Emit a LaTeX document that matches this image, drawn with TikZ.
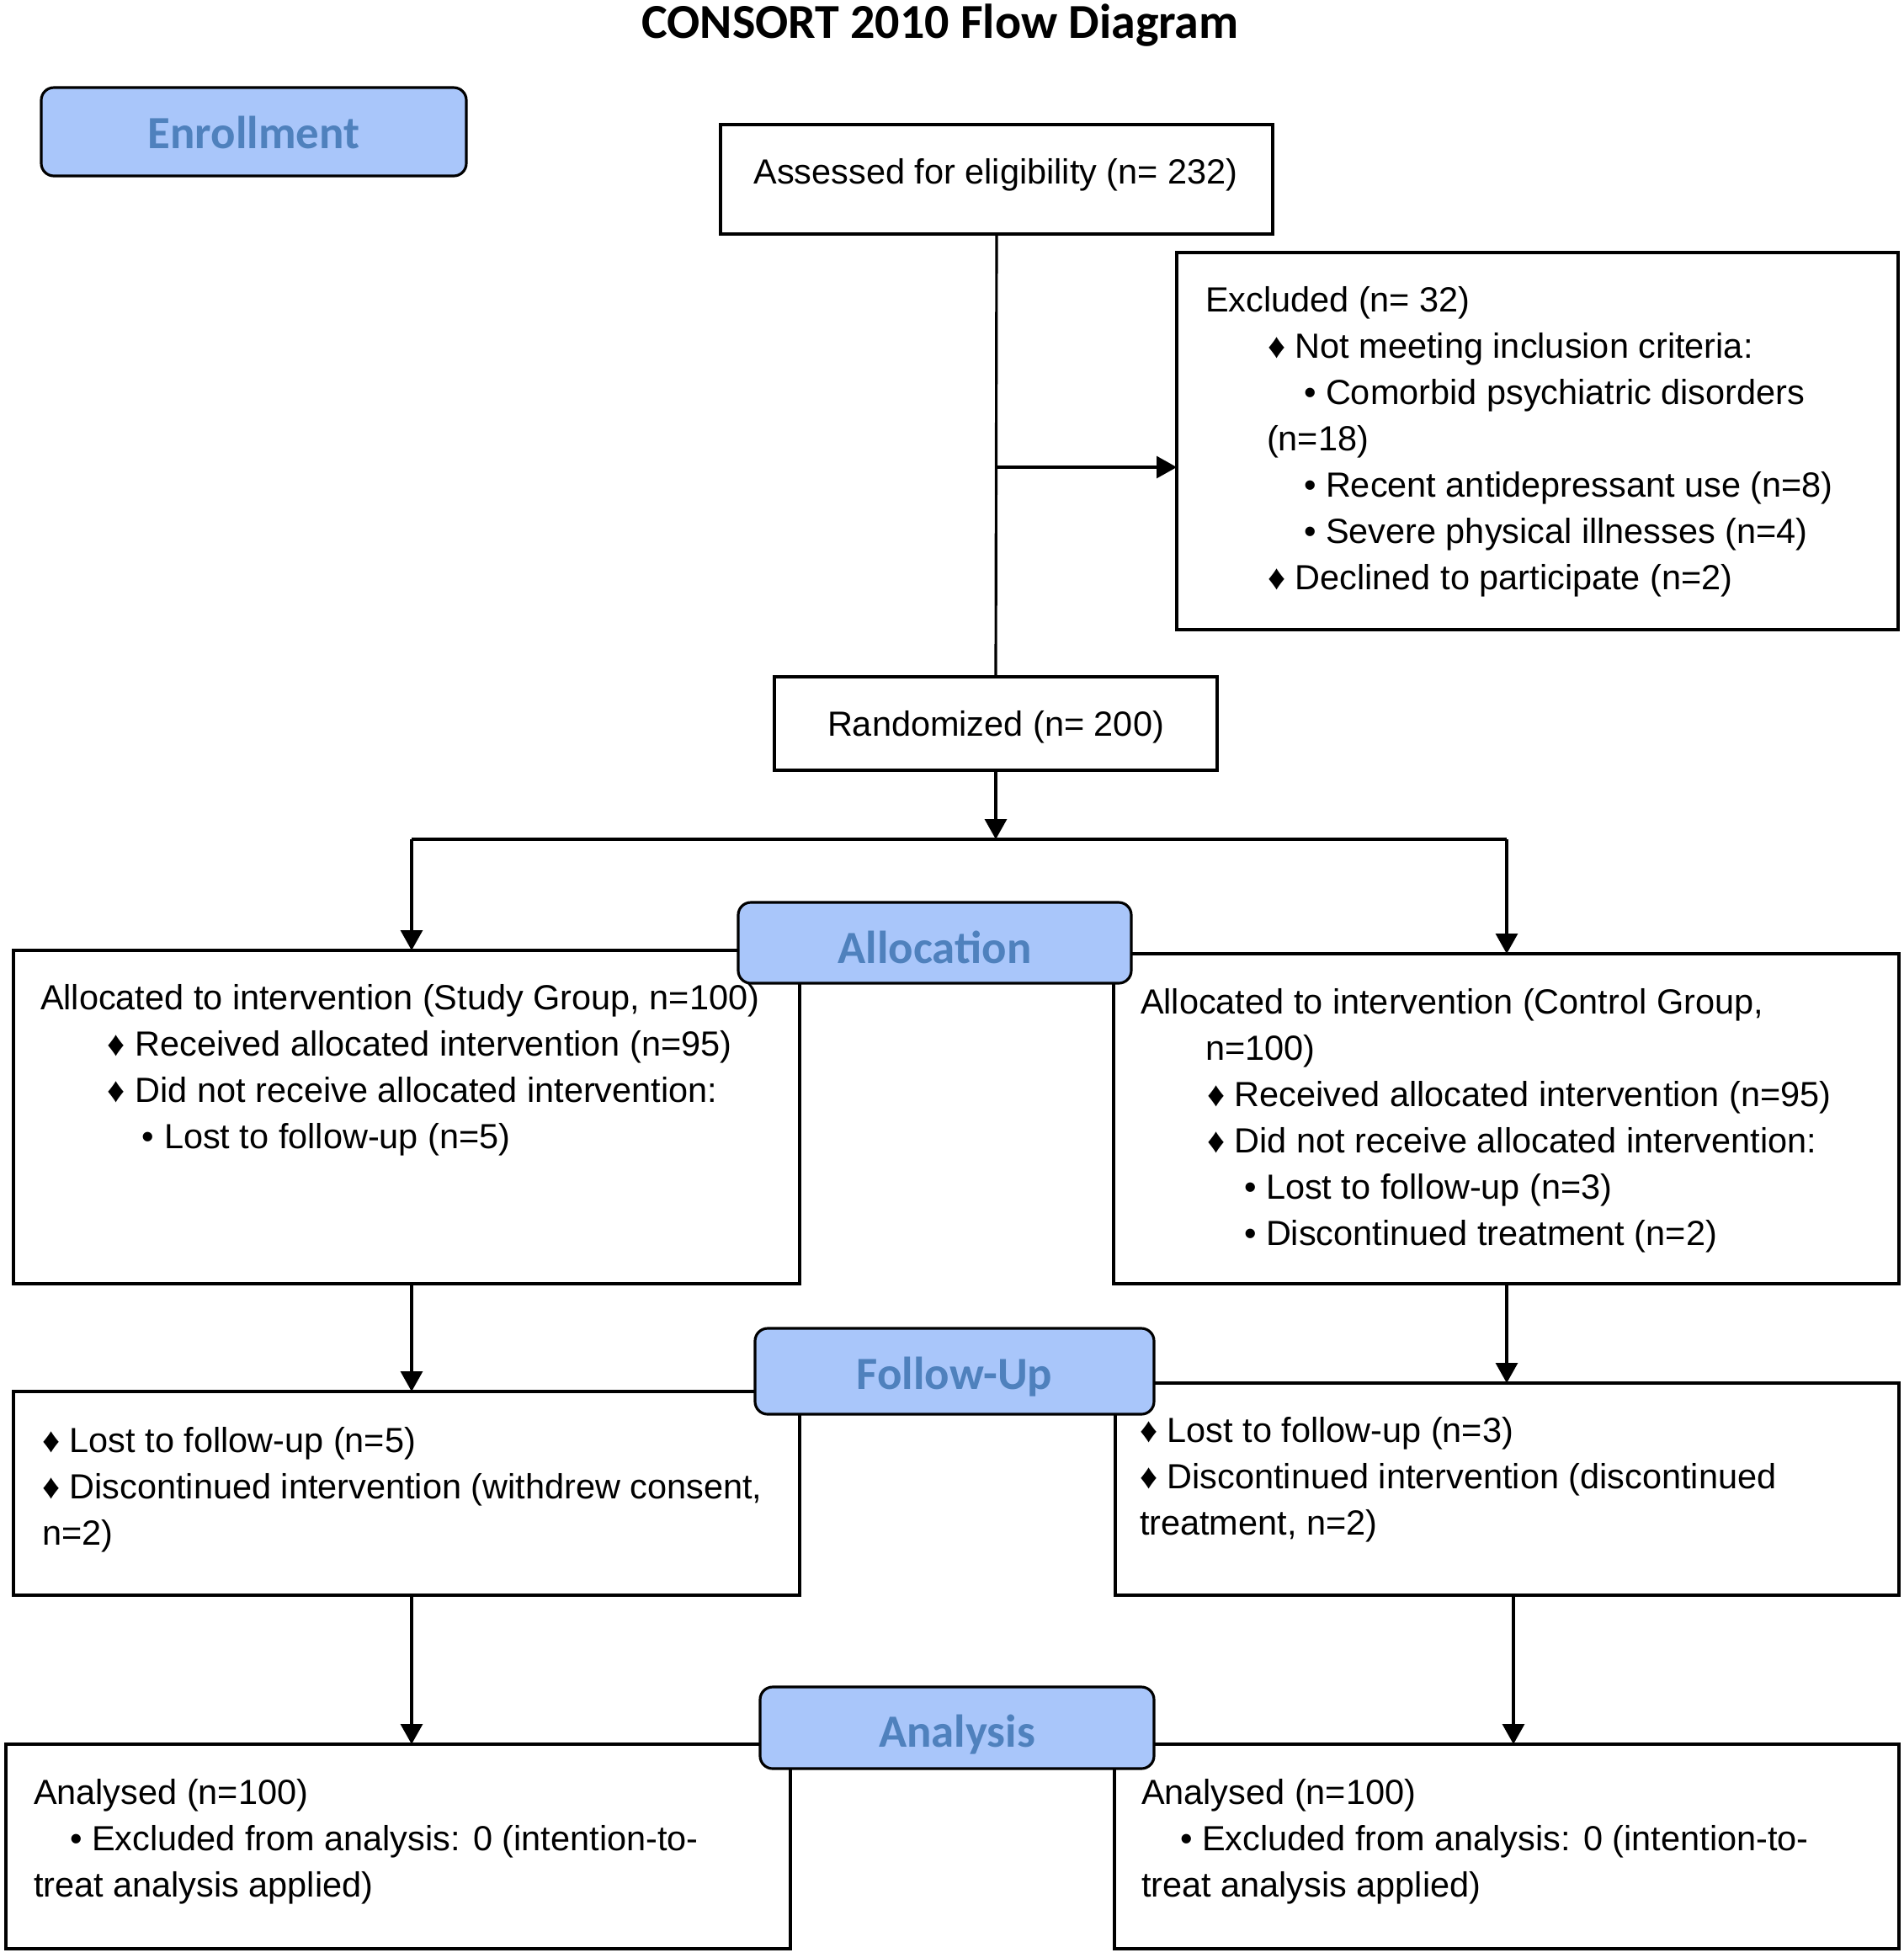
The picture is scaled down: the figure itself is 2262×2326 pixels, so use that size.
\documentclass[tikz,border=0pt]{standalone}
\usepackage{fontspec}
\setmainfont{Liberation Sans}
\newfontfamily\calib{Carlito}
\usetikzlibrary{arrows.meta}
\definecolor{phasefill}{HTML}{A9C6FA}
\definecolor{phasetext}{HTML}{4F81BD}
\newcommand\firststrut{\rule{0pt}{4mm}}
\begin{document}
\begin{tikzpicture}[x=0.1mm,y=-0.1mm,
  box/.style={draw, line width=0.9pt, inner sep=0pt, outer sep=0pt},
  phase/.style={draw, line width=0.9pt, fill=phasefill, rounded corners=1.5mm, inner sep=0pt, outer sep=0pt},
  phtxt/.style={inner sep=0pt, outer sep=0pt, anchor=base,
     font=\calib\bfseries\fontsize{15.6}{18}\selectfont, text=phasetext},
  txt/.style={inner sep=0pt, outer sep=0pt, align=left, anchor=north west,
     font=\fontsize{11.8}{15.65}\selectfont},
  ctxt/.style={inner sep=0pt, outer sep=0pt, anchor=base, font=\fontsize{11.8}{15.65}\selectfont},
  arr/.style={line width=0.9pt, -{Triangle[length=2.4mm,width=2.6mm]}},
  ln/.style={line width=0.9pt}]
\useasboundingbox (0,0) rectangle (2262,2326);

% title
\node[inner sep=0pt, anchor=base, font=\calib\bfseries\fontsize{16.5}{20}\selectfont] (title) at (1117,45) {CONSORT 2010 Flow Diagram};

% boxes
\node[box, minimum width=65.6mm, minimum height=13mm] (assess) at (1184,213) {};
\node[box, minimum width=85.7mm, minimum height=44.8mm] (excl) at (1826.5,524) {};
\node[box, minimum width=52.6mm, minimum height=11.1mm] (rand) at (1183,859.5) {};
\node[box, minimum width=93.4mm, minimum height=39.6mm] (allocL) at (483,1327) {};
\node[box, minimum width=93.3mm, minimum height=39.2mm] (allocR) at (1789.5,1329) {};
\node[box, minimum width=93.4mm, minimum height=24.2mm] (followL) at (483,1774) {};
\node[box, minimum width=93.1mm, minimum height=25.2mm] (followR) at (1790.5,1769) {};
\node[box, minimum width=93.2mm, minimum height=24.3mm] (anaL) at (473,2193.5) {};
\node[box, minimum width=93.2mm, minimum height=24.3mm] (anaR) at (1790,2193.5) {};

% texts
\node[ctxt] (assessT) at (1183,218) {Assessed for eligibility (n= 232)};
\node[ctxt] (randT) at (1183,874) {Randomized (n= 200)};

\node[txt] (exclT) at (1432,330) {\firststrut Excluded (n= 32)\\
\hspace*{7.4mm}♦ Not meeting inclusion criteria:\\
\hspace*{11.7mm}• Comorbid psychiatric disorders\\
\hspace*{7.3mm}(n=18)\\
\hspace*{11.7mm}• Recent antidepressant use (n=8)\\
\hspace*{11.7mm}• Severe physical illnesses (n=4)\\
\hspace*{7.4mm}♦ Declined to participate (n=2)};

\node[txt] (allocLT) at (48,1159) {\firststrut Allocated to intervention (Study Group, n=100)\\
\hspace*{8mm}♦ Received allocated intervention (n=95)\\
\hspace*{8mm}♦ Did not receive allocated intervention:\\
\hspace*{12.1mm}• Lost to follow-up (n=5)};

\node[txt] (allocRT) at (1355,1164) {\firststrut Allocated to intervention (Control Group,\\
\hspace*{7.7mm}n=100)\\
\hspace*{7.9mm}♦ Received allocated intervention (n=95)\\
\hspace*{7.9mm}♦ Did not receive allocated intervention:\\
\hspace*{12.3mm}• Lost to follow-up (n=3)\\
\hspace*{12.3mm}• Discontinued treatment (n=2)};

\node[txt] (followLT) at (50,1685) {\firststrut ♦ Lost to follow-up (n=5)\\
♦ Discontinued intervention (withdrew consent,\\
n=2)};

\node[txt] (followRT) at (1354,1673) {\firststrut ♦ Lost to follow-up (n=3)\\
♦ Discontinued intervention (discontinued\\
treatment, n=2)};

\node[txt] (anaLT) at (40,2103) {\firststrut Analysed (n=100)\\
\hspace*{4.3mm}• Excluded from analysis: 0 (intention-to-\\
treat analysis applied)};

\node[txt] (anaRT) at (1356,2103) {\firststrut Analysed (n=100)\\
\hspace*{4.6mm}• Excluded from analysis: 0 (intention-to-\\
treat analysis applied)};

% connectors
\coordinate (j1) at (1184,555);
\coordinate (split) at (1183,997);
\coordinate (sL) at (489,997);
\coordinate (sR) at (1790,997);
\draw[ln] (assess.south) -- (rand.north);
\draw[arr] (j1) -- (j1 -| excl.west);
\draw[arr] (rand.south) -- (split);
\draw[ln] (sL) -- (sR);
\draw[arr] (sL) -- (sL |- allocL.north);
\draw[arr] (sR) -- (sR |- allocR.north);
\coordinate (aL) at (489,1525);
\coordinate (aR) at (1790,1525);
\draw[arr] (aL) -- (aL |- followL.north);
\draw[arr] (aR) -- (aR |- followR.north);
\coordinate (fL) at (489,1895);
\coordinate (fR) at (1798,1895);
\draw[arr] (fL) -- (fL |- anaL.north);
\draw[arr] (fR) -- (fR |- anaR.north);

% phase labels
\node[phase, minimum width=50.5mm, minimum height=10.5mm] (enroll) at (301.5,156.5) {};
\node[phtxt] (enrollT) at (301.5,176) {Enrollment};
\node[phase, minimum width=46.7mm, minimum height=9.6mm] (alloc) at (1110.5,1120) {};
\node[phtxt] (allocT) at (1110.5,1144) {Allocation};
\node[phase, minimum width=47.4mm, minimum height=10.2mm] (follow) at (1134,1629) {};
\node[phtxt] (followT) at (1134,1650) {Follow-Up};
\node[phase, minimum width=46.8mm, minimum height=9.7mm] (ana) at (1137,2052.5) {};
\node[phtxt] (anaT) at (1137,2075) {Analysis};
\end{tikzpicture}
\end{document}
